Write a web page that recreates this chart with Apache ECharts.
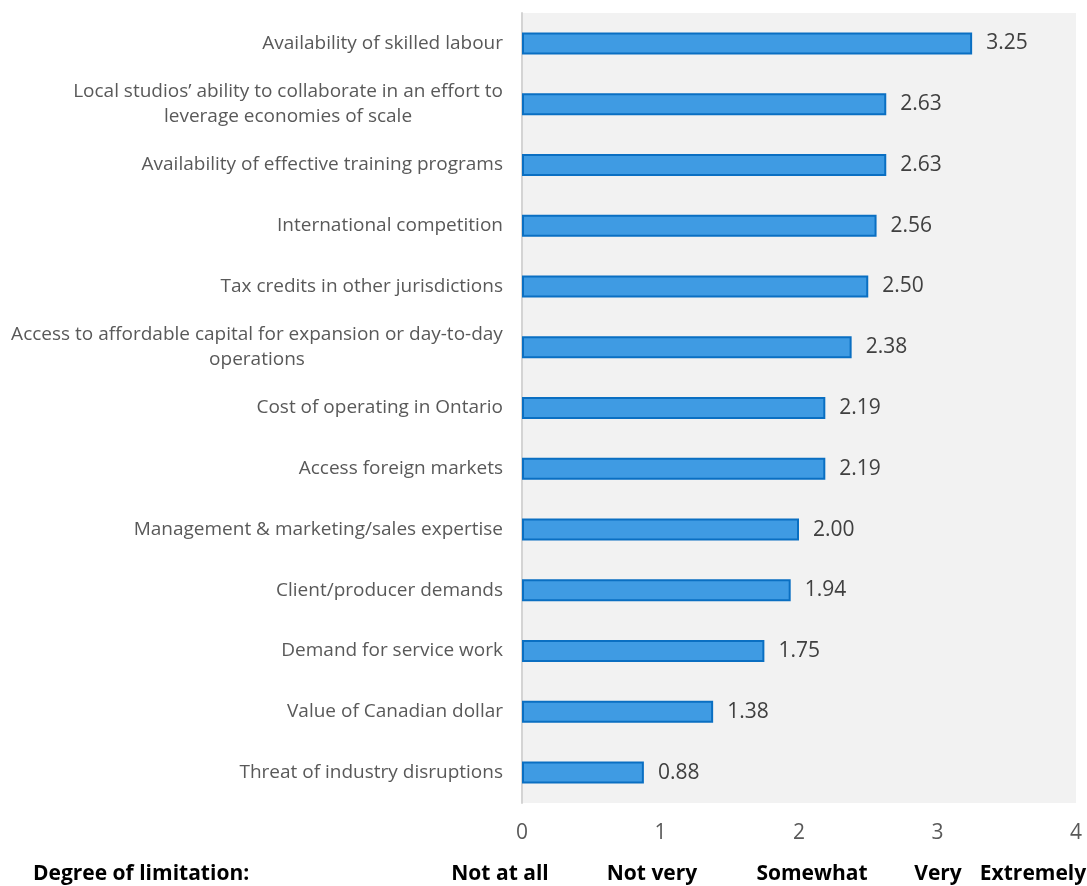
<!DOCTYPE html>
<html>
<head>
<meta charset="utf-8">
<script src="https://cdn.jsdelivr.net/npm/echarts@6/dist/echarts.min.js"></script>
<style>
  html, body { margin: 0; padding: 0; background: #ffffff; }
  #chart { width: 1087px; height: 886px; }
</style>
</head>
<body>
<div id="chart"></div>
<script>
// Factors limiting growth, mean rating (0 = not at all, 4 = extremely)
const categories = [
  'Availability of skilled labour',
  'Local studios\u2019 ability to collaborate in an effort to\nleverage economies of scale',
  'Availability of effective training programs',
  'International competition',
  'Tax credits in other jurisdictions',
  'Access to affordable capital for expansion or day-to-day\noperations',
  'Cost of operating in Ontario',
  'Access foreign markets',
  'Management & marketing/sales expertise',
  'Client/producer demands',
  'Demand for service work',
  'Value of Canadian dollar',
  'Threat of industry disruptions'
];
const values = [3.25, 2.63, 2.63, 2.56, 2.50, 2.38, 2.19, 2.19, 2.00, 1.94, 1.75, 1.38, 0.88];
const tickValues = [0, 1, 2, 3, 4];
const scaleTitle = 'Degree of limitation:';
const scaleLabels = ['Not at all', 'Not very', 'Somewhat', 'Very', 'Extremely'];

const FONT = '"Open Sans", "Noto Sans", sans-serif';
const LABEL_SIZE = 19;

// measure the first line of wrapped labels so the second line can be centred under it
const ctx = document.createElement('canvas').getContext('2d');
ctx.font = LABEL_SIZE + 'px "Open Sans"';
const richStyles = {};
const labelText = {};
categories.forEach((c, i) => {
  const lines = c.split('\n');
  if (lines.length > 1) {
    const w = Math.ceil(ctx.measureText(lines[0]).width);
    const key = 'w' + i;
    richStyles[key] = { width: w, align: 'center', fontSize: LABEL_SIZE, fontFamily: FONT, color: '#595959', lineHeight: 25 };
    labelText[c] = lines.map(l => '{' + key + '|' + l + '}').join('\n');
  }
});

const chart = echarts.init(document.getElementById('chart'), null, { renderer: 'canvas' });
chart.setOption({
  animation: false,
  backgroundColor: '#ffffff',
  grid: {
    left: 522, right: 11, top: 13, bottom: 83,
    show: true, backgroundColor: '#f2f2f2', borderWidth: 0,
    containLabel: false
  },
  xAxis: {
    type: 'value', min: 0, max: 4, interval: 1,
    axisLine: { show: false },
    axisTick: { show: false },
    splitLine: { show: false },
    axisLabel: {
      margin: 20, fontSize: 21, color: '#595959', fontFamily: FONT,
      formatter: v => tickValues.includes(v) ? String(v) : ''
    }
  },
  yAxis: {
    type: 'category', inverse: true, data: categories,
    axisLine: { show: true, lineStyle: { color: '#d4d4d4', width: 2 } },
    axisTick: { show: false },
    axisLabel: {
      margin: 19, fontSize: LABEL_SIZE, color: '#595959', fontFamily: FONT,
      lineHeight: 25, align: 'right',
      formatter: v => labelText[v] || v,
      rich: richStyles
    }
  },
  series: [{
    type: 'bar',
    data: values,
    barWidth: 22,
    itemStyle: { color: '#3f9be3', borderColor: '#0a6fc2', borderWidth: 2 },
    label: {
      show: true, position: 'right', distance: 14,
      fontSize: 21, color: '#404040', fontFamily: FONT,
      formatter: p => p.value.toFixed(2)
    }
  }],
  graphic: [
    { type: 'text', x: 33, y: 874, style: { text: scaleTitle, font: 'bold 21px ' + FONT, fill: '#000000', textVerticalAlign: 'middle' } },
    ...scaleLabels.map((t, i) => ({
      type: 'text',
      x: [500, 652, 812, 938, 1033][i], y: 874,
      style: { text: t, font: 'bold 21px ' + FONT, fill: '#000000', textAlign: 'center', textVerticalAlign: 'middle' }
    }))
  ]
});
</script>
</body>
</html>
